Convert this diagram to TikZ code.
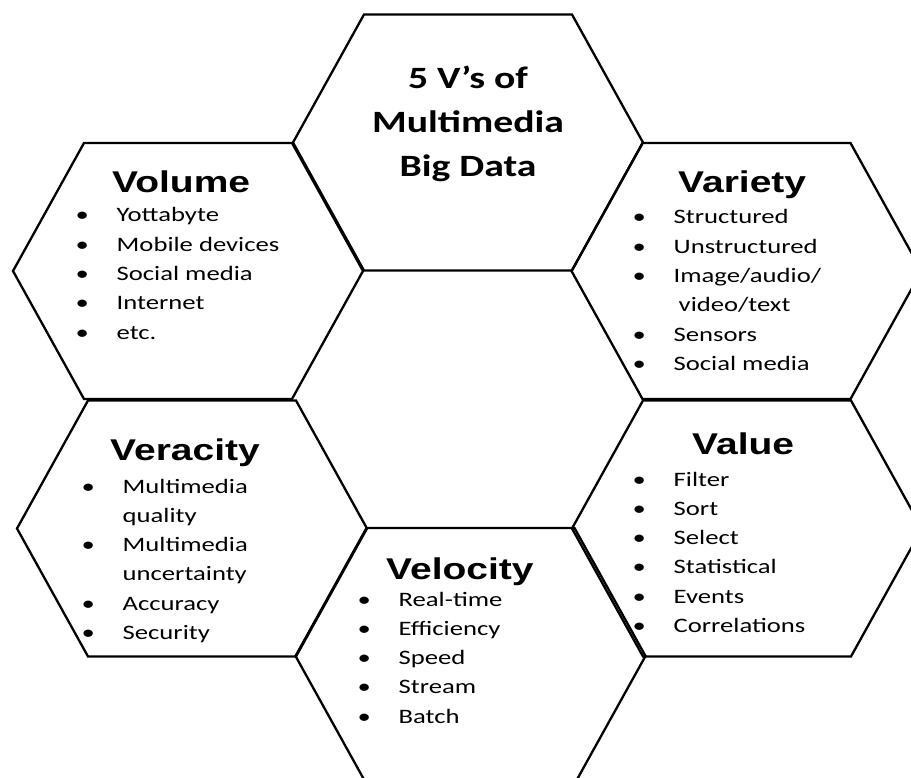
\documentclass[tikz,border=0pt]{standalone}
\usepackage{fontspec}
\newfontfamily\titlefont[FakeStretch=1.3]{Liberation Sans}
\newfontfamily\bodyfont[FakeStretch=1.3]{Carlito}
\newfontfamily\headfont[FakeStretch=1.28]{Carlito}
\newcommand\bitem[1]{\makebox[41pt][l]{•}#1}
\newcommand\hexagon[2]{%
  \draw[hexline] (#1-175,#2) -- (#1-104,#2-128) -- (#1+104,#2-128) -- (#1+175,#2)
    -- (#1+104,#2+128) -- (#1-104,#2+128) -- cycle;}
\begin{document}
\begin{tikzpicture}[x=1pt,y=-1pt,
  hexline/.style={draw=black, line width=2.3pt, line join=miter},
  vtitle/.style={anchor=base west, inner sep=0pt, font=\titlefont\bfseries\fontsize{30}{36}\selectfont},
  vhead/.style={anchor=base, inner sep=0pt, font=\headfont\bfseries\fontsize{31}{44}\selectfont},
  vlist/.style={anchor=base west, inner sep=0pt, font=\bodyfont\fontsize{20.5}{29.3}\selectfont}]
\clip (0,0) rectangle (911,778);
\fill[white] (0,0) rectangle (911,778);
% hexagons
\hexagon{468}{142.5}
\hexagon{188}{271}
\hexagon{746.5}{271}
\hexagon{192}{528.5}
\hexagon{747}{528.5}
\hexagon{470.5}{656}
% central title
\node[vhead] (h1) at (468,89) {5 V’s of};
\node[vhead] (h2) at (468,133) {Multimedia};
\node[vhead] (h3) at (468,177) {Big Data};
% Volume
\node[vtitle] (voltitle) at (112,193) {Volume};
\node[vlist] (vollist) at (75.5,222) {\begin{tabular}[t]{@{}l@{}}
\bitem{Yottabyte}\\ \bitem{Mobile devices}\\ \bitem{Social media}\\ \bitem{Internet}\\ \bitem{etc.}
\end{tabular}};
% Variety
\node[vtitle] (vartitle) at (678,193) {Variety};
\node[vlist] (varlist) at (632.5,224) {\begin{tabular}[t]{@{}l@{}}
\bitem{Structured}\\ \bitem{Unstructured}\\ \bitem{Image/audio/}\\ \hspace*{46pt}video/text\\ \bitem{Sensors}\\ \bitem{Social media}
\end{tabular}};
% Veracity
\node[vtitle] (vertitle) at (110,460) {Veracity};
\node[vlist] (verlist) at (81.5,493) {\begin{tabular}[t]{@{}l@{}}
\bitem{Multimedia}\\ \hspace*{41pt}quality\\ \bitem{Multimedia}\\ \hspace*{41pt}uncertainty\\ \bitem{Accuracy}\\ \bitem{Security}
\end{tabular}};
% Value
\node[vtitle] (valtitle) at (692,454) {Value};
\node[vlist] (vallist) at (632.5,486) {\begin{tabular}[t]{@{}l@{}}
\bitem{Filter}\\ \bitem{Sort}\\ \bitem{Select}\\ \bitem{Statistical}\\ \bitem{Events}\\ \bitem{Correlations}
\end{tabular}};
% Velocity
\node[vtitle] (veltitle) at (386,579) {Velocity};
\node[vlist] (vellist) at (357.5,606) {\begin{tabular}[t]{@{}l@{}}
\bitem{Real-time}\\ \bitem{Efficiency}\\ \bitem{Speed}\\ \bitem{Stream}\\ \bitem{Batch}
\end{tabular}};
\end{tikzpicture}
\end{document}
